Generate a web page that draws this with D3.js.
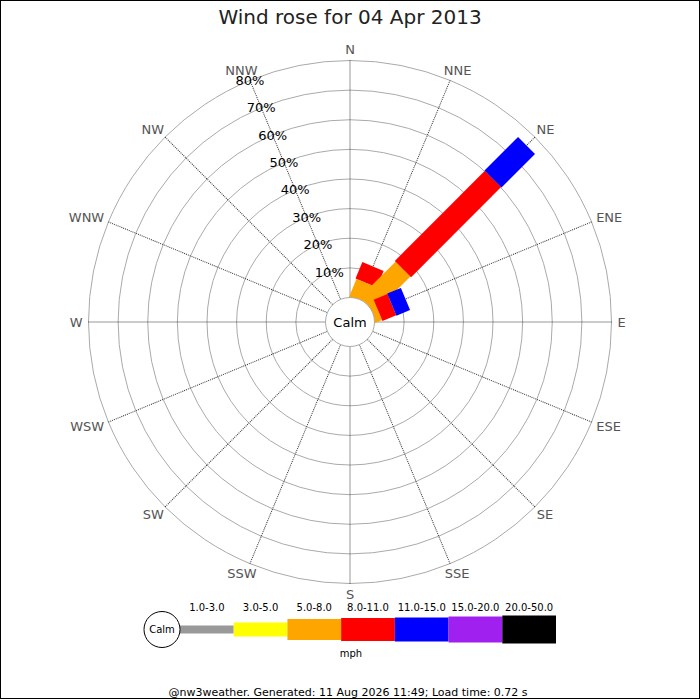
<!DOCTYPE html>
<meta charset="utf-8">
<script src="https://d3js.org/d3.v7.min.js"></script>
<style>
  body { margin: 0; background: #fff; }
  text { font-family: "DejaVu Sans", sans-serif; }
</style>
<div id="rose"></div>
<script>
// compass points, clockwise from north
const directions = ["N", "NNE", "NE", "ENE", "E", "ESE", "SE", "SSE",
                    "S", "SSW", "SW", "WSW", "W", "WNW", "NW", "NNW"];
// speed classes (mph)
const speedBands = ["1.0-3.0", "3.0-5.0", "5.0-8.0", "8.0-11.0", "11.0-15.0", "15.0-20.0", "20.0-50.0"];
const bandColors = ["#999999", "#ffff00", "#ffa500", "#ff0000", "#0000ff", "#a020f0", "#000000"];

// % of the day per direction, one array per speed class
const pct1to3   = [0, 0,  0, 0, 0, 0, 0, 0, 0, 0, 0, 0, 0, 0, 0, 0];
const pct3to5   = [0, 0,  0, 0, 0, 0, 0, 0, 0, 0, 0, 0, 0, 0, 0, 0];
const pct5to8   = [0, 6, 17, 2, 0, 0, 0, 0, 0, 0, 0, 0, 0, 0, 0, 0];
const pct8to11  = [0, 6, 43, 5, 0, 0, 0, 0, 0, 0, 0, 0, 0, 0, 0, 0];
const pct11to15 = [0, 0, 16, 5, 0, 0, 0, 0, 0, 0, 0, 0, 0, 0, 0, 0];
const pct15to20 = [0, 0,  0, 0, 0, 0, 0, 0, 0, 0, 0, 0, 0, 0, 0, 0];
const pct20to50 = [0, 0,  0, 0, 0, 0, 0, 0, 0, 0, 0, 0, 0, 0, 0, 0];

const ringTicks = [10, 20, 30, 40, 50, 60, 70, 80];

const title = "Wind rose for 04 Apr 2013";
const footer = "@nw3weather. Generated: 11 Aug 2026 11:49; Load time: 0.72 s";

// ---- layout / style
const W = 700, H = 700;
const cx = 350, cy = 322;
const calmR = 24.5, outerR = 261.5;
const barWidths = [8, 14, 21, 23, 24, 26, 28];   // bar thickness per speed class

const bands = [pct1to3, pct3to5, pct5to8, pct8to11, pct11to15, pct15to20, pct20to50];

const svg = d3.select("#rose").append("svg")
    .attr("width", W).attr("height", H);

svg.append("rect").attr("width", W).attr("height", H).attr("fill", "#fff");

const r = d3.scaleLinear().domain([0, 80]).range([calmR, outerR]);
const ang = d3.scalePoint().domain(directions).range([0, 360 - 22.5]);

const g = svg.append("g").attr("transform", `translate(${cx},${cy})`);

// rings
g.selectAll("circle.ring")
    .data(ringTicks)
    .enter().append("circle")
    .attr("class", "ring")
    .attr("r", d => r(d))
    .attr("fill", "none")
    .attr("stroke", "#aaa")
    .attr("stroke-width", 1);

// spokes
g.selectAll("line.spoke")
    .data(directions)
    .enter().append("line")
    .attr("class", "spoke")
    .attr("x1", 0).attr("y1", -calmR)
    .attr("x2", 0).attr("y2", -outerR)
    .attr("transform", d => `rotate(${ang(d)})`)
    .attr("stroke", "#333")
    .attr("stroke-width", 1)
    .attr("stroke-dasharray", "1,1");

// direction labels
const rad = d => ang(d) * Math.PI / 180;
const dirLabels = g.selectAll("text.dir")
    .data(directions)
    .enter().append("text")
    .attr("class", "dir")
    .attr("font-size", 13)
    .attr("fill", "#555")
    .attr("text-anchor", "middle")
    .attr("dominant-baseline", "central")
    .text(d => d);

dirLabels.each(function (d) {
    const a = rad(d);
    const sx = Math.sin(a), sy = -Math.cos(a);
    const w = this.getComputedTextLength();
    const gap = 6;
    const ex = sx * outerR, ey = sy * outerR;
    d3.select(this)
        .attr("x", ex + sx * (gap + w / 2))
        .attr("y", ey + sy * (gap + 5));
});

// stacked bars
const stacks = directions.map((d, i) => {
    let cum = 0;
    return bands.map((b, k) => {
        const seg = { dir: d, band: k, from: cum, to: cum + b[i] };
        cum += b[i];
        return seg;
    }).filter(s => s.to > s.from);
});

g.selectAll("g.bar")
    .data(stacks)
    .enter().append("g")
    .attr("class", "bar")
    .attr("transform", (s, i) => `rotate(${ang(directions[i])})`)
    .selectAll("rect")
    .data(s => s)
    .enter().append("rect")
    .attr("x", s => -barWidths[s.band] / 2)
    .attr("width", s => barWidths[s.band])
    .attr("y", s => -r(s.to))
    .attr("height", s => r(s.to) - (s.from === 0 ? 0 : r(s.from)))
    .attr("fill", s => bandColors[s.band]);

// percent labels along NNW
g.selectAll("text.pct")
    .data(ringTicks)
    .enter().append("text")
    .attr("class", "pct")
    .attr("x", d => Math.sin(rad("NNW")) * r(d))
    .attr("y", d => -Math.cos(rad("NNW")) * r(d))
    .attr("text-anchor", "middle")
    .attr("dominant-baseline", "central")
    .attr("font-size", 13)
    .attr("fill", "#000")
    .text(d => d + "%");

// calm circle
g.append("circle")
    .attr("r", calmR)
    .attr("fill", "#fff")
    .attr("stroke", "#aaa");
g.append("text")
    .attr("text-anchor", "middle")
    .attr("dominant-baseline", "central")
    .attr("font-size", 13)
    .text("Calm");

// title
svg.append("text")
    .attr("x", W / 2).attr("y", 23.5)
    .attr("text-anchor", "middle")
    .attr("font-size", 20)
    .attr("fill", "#222")
    .text(title);

// legend
const lx = d3.scaleBand().domain(speedBands).range([180, 556]);
const ly = 629.5;
const legend = svg.append("g");
legend.selectAll("rect")
    .data(speedBands)
    .enter().append("rect")
    .attr("x", d => lx(d))
    .attr("width", lx.bandwidth())
    .attr("y", (d, i) => ly - barWidths[i] / 2)
    .attr("height", (d, i) => barWidths[i])
    .attr("fill", (d, i) => bandColors[i]);
legend.selectAll("text")
    .data(speedBands)
    .enter().append("text")
    .attr("x", d => lx(d) + lx.bandwidth() / 2)
    .attr("y", 607)
    .attr("text-anchor", "middle")
    .attr("dominant-baseline", "central")
    .attr("font-size", 10)
    .text(d => d);
legend.append("circle")
    .attr("cx", 162).attr("cy", ly).attr("r", 18)
    .attr("fill", "#fff").attr("stroke", "#000");
legend.append("text")
    .attr("x", 162).attr("y", ly)
    .attr("text-anchor", "middle")
    .attr("dominant-baseline", "central")
    .attr("font-size", 10)
    .text("Calm");
legend.append("text")
    .attr("x", 351).attr("y", 653)
    .attr("text-anchor", "middle")
    .attr("dominant-baseline", "central")
    .attr("font-size", 10)
    .text("mph");

// footer
svg.append("text")
    .attr("x", 348).attr("y", 692)
    .attr("text-anchor", "middle")
    .attr("dominant-baseline", "central")
    .attr("font-size", 11)
    .text(footer);

// frame
svg.append("rect")
    .attr("x", 0.5).attr("y", 0.5)
    .attr("width", W - 1).attr("height", 698)
    .attr("fill", "none")
    .attr("stroke", "#000");
</script>
